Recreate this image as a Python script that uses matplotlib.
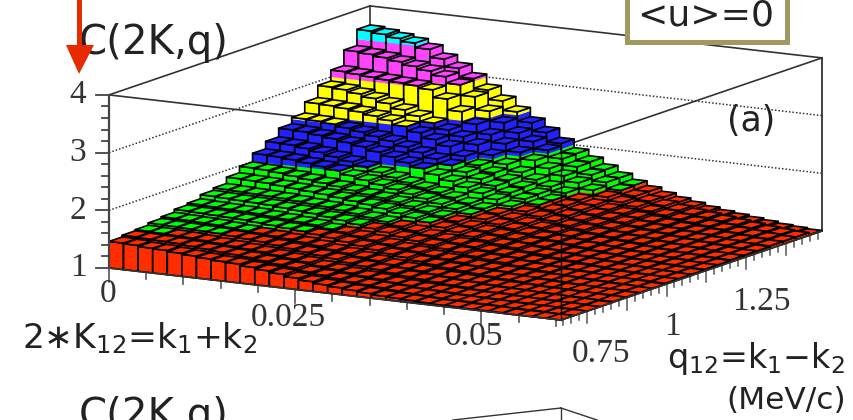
import numpy as np
import matplotlib
matplotlib.use('Agg')
import matplotlib.pyplot as plt
from matplotlib.collections import PolyCollection
from matplotlib.patches import Polygon, Rectangle

# C(2K,q), one row per q bin (front to back), one value per K bin
c_values = [
    [1.46,1.45,1.43,1.42,1.40,1.38,1.36,1.34,1.33,1.30,1.27,1.24,1.20,1.17,1.14,1.12,1.10,1.08,1.06,1.05,1.04,1.03,1.02,1.02,1.01,1.01,1.01,1.00,1.00,1.00,1.00],
    [1.49,1.48,1.47,1.46,1.44,1.42,1.40,1.38,1.36,1.33,1.30,1.27,1.23,1.20,1.17,1.14,1.12,1.10,1.08,1.06,1.05,1.04,1.03,1.03,1.02,1.02,1.01,1.01,1.01,1.00,1.00],
    [1.51,1.50,1.49,1.48,1.46,1.44,1.42,1.40,1.38,1.35,1.32,1.29,1.25,1.22,1.19,1.16,1.14,1.11,1.09,1.07,1.06,1.05,1.04,1.03,1.03,1.02,1.02,1.01,1.01,1.01,1.00],
    [1.55,1.54,1.53,1.52,1.51,1.49,1.47,1.45,1.42,1.39,1.36,1.33,1.30,1.26,1.23,1.20,1.17,1.14,1.12,1.10,1.08,1.07,1.05,1.04,1.04,1.03,1.02,1.02,1.01,1.01,1.00],
    [1.58,1.57,1.56,1.55,1.53,1.51,1.49,1.47,1.45,1.42,1.39,1.35,1.32,1.28,1.25,1.21,1.18,1.16,1.13,1.11,1.09,1.08,1.06,1.05,1.04,1.03,1.03,1.02,1.02,1.01,1.01],
    [1.63,1.62,1.61,1.60,1.59,1.57,1.55,1.53,1.51,1.48,1.45,1.41,1.37,1.33,1.29,1.26,1.22,1.19,1.16,1.14,1.12,1.10,1.08,1.07,1.05,1.04,1.03,1.03,1.02,1.02,1.01],
    [1.66,1.65,1.64,1.63,1.62,1.60,1.58,1.56,1.54,1.50,1.47,1.43,1.39,1.35,1.31,1.28,1.24,1.21,1.18,1.15,1.13,1.11,1.09,1.07,1.06,1.05,1.04,1.03,1.02,1.02,1.01],
    [1.73,1.72,1.71,1.70,1.69,1.67,1.65,1.63,1.60,1.57,1.53,1.49,1.45,1.40,1.36,1.32,1.28,1.25,1.21,1.18,1.16,1.13,1.11,1.09,1.07,1.06,1.05,1.04,1.03,1.02,1.01],
    [1.77,1.76,1.75,1.74,1.73,1.71,1.69,1.67,1.64,1.61,1.57,1.53,1.48,1.43,1.38,1.34,1.30,1.27,1.23,1.20,1.17,1.14,1.12,1.10,1.08,1.07,1.05,1.04,1.03,1.03,1.02],
    [1.88,1.87,1.86,1.84,1.82,1.80,1.78,1.75,1.72,1.69,1.65,1.60,1.55,1.50,1.44,1.39,1.34,1.30,1.26,1.23,1.19,1.17,1.14,1.12,1.10,1.08,1.06,1.05,1.04,1.03,1.02],
    [1.99,1.98,1.96,1.93,1.90,1.87,1.84,1.80,1.76,1.73,1.69,1.64,1.58,1.53,1.47,1.41,1.36,1.32,1.28,1.24,1.21,1.18,1.15,1.13,1.11,1.09,1.07,1.06,1.04,1.03,1.02],
    [2.14,2.13,2.11,2.08,2.05,2.01,1.95,1.90,1.85,1.80,1.75,1.70,1.64,1.58,1.52,1.46,1.40,1.35,1.30,1.26,1.23,1.20,1.17,1.14,1.12,1.10,1.08,1.07,1.05,1.04,1.03],
    [2.27,2.26,2.23,2.19,2.14,2.09,2.03,1.96,1.90,1.84,1.78,1.73,1.67,1.60,1.54,1.48,1.42,1.37,1.32,1.28,1.24,1.21,1.18,1.15,1.13,1.11,1.09,1.07,1.06,1.04,1.03],
    [2.42,2.41,2.38,2.35,2.31,2.27,2.21,2.15,2.08,2.01,1.93,1.85,1.77,1.70,1.62,1.53,1.47,1.41,1.36,1.31,1.27,1.23,1.20,1.17,1.15,1.12,1.10,1.08,1.07,1.05,1.04],
    [2.53,2.52,2.50,2.46,2.42,2.37,2.32,2.25,2.18,2.10,2.02,1.93,1.84,1.75,1.66,1.58,1.51,1.44,1.38,1.33,1.29,1.25,1.21,1.18,1.16,1.13,1.11,1.09,1.07,1.05,1.04],
    [2.72,2.71,2.69,2.66,2.62,2.57,2.50,2.42,2.33,2.24,2.10,1.97,1.87,1.77,1.68,1.59,1.51,1.45,1.40,1.35,1.31,1.27,1.23,1.20,1.17,1.14,1.12,1.10,1.08,1.06,1.04],
    [2.93,2.91,2.87,2.82,2.76,2.68,2.60,2.51,2.42,2.33,2.22,2.07,1.94,1.83,1.73,1.64,1.56,1.47,1.41,1.36,1.32,1.28,1.24,1.21,1.18,1.15,1.13,1.10,1.08,1.06,1.05],
    [3.12,3.10,3.08,3.06,3.04,3.02,2.98,2.85,2.66,2.47,2.32,2.19,2.07,1.96,1.85,1.75,1.66,1.56,1.47,1.41,1.36,1.31,1.27,1.23,1.20,1.17,1.14,1.11,1.09,1.07,1.05],
    [3.39,3.37,3.34,3.30,3.25,3.20,3.13,3.02,2.84,2.62,2.45,2.30,2.18,2.06,1.94,1.83,1.72,1.62,1.51,1.44,1.38,1.33,1.28,1.24,1.21,1.18,1.15,1.12,1.09,1.07,1.05],
    [3.67,3.64,3.60,3.55,3.47,3.33,3.20,3.05,2.88,2.72,2.56,2.40,2.26,2.10,1.95,1.84,1.73,1.62,1.52,1.44,1.37,1.31,1.26,1.21,1.17,1.14,1.11,1.08,1.05,1.03,1.01],
]
levels = [1.0, 1.5, 2.0, 2.5, 3.0, 3.5, 4.0]
level_colors = ['#ff2c00', '#00ff00', '#2222ff', '#ffff00', '#ff44ff', '#00ffff']

k_range = (0.0, 0.0607)
q_range = (0.668, 1.489)
k_major = [0, 0.025, 0.05]
q_major = [0.75, 1.0, 1.25]
z_major = [1, 2, 3, 4]

c_values = np.array(c_values)
nq, nk = c_values.shape
k_edges = np.linspace(k_range[0], k_range[1], nk + 1)
q_edges = np.linspace(q_range[0], q_range[1], nq + 1)


def proj(k, q, z):
    # oblique view of the ROOT lego box, result in image pixels
    u = (k - k_range[0]) / (k_range[1] - k_range[0])
    v = (q - q_range[0]) / (q_range[1] - q_range[0])
    return 109 + 452 * u + 261 * v, 268 + 52 * u - 89 * v - 57.7 * (z - 1)


def band_parts(z0, z1):
    # split a bar side into the colour bands it crosses
    parts = []
    for b in range(len(level_colors)):
        lo, hi = max(z0, levels[b]), min(z1, levels[b + 1])
        if hi > lo:
            parts.append((lo, hi, level_colors[b]))
    return parts


def band_color(z):
    b = np.searchsorted(levels, z, side='right') - 1
    return level_colors[min(b, len(level_colors) - 1)]


fig = plt.figure(figsize=(8.54, 4.2), dpi=100)
ax = fig.add_axes([0, 0, 1, 1])
ax.set_xlim(0, 854)
ax.set_ylim(420, 0)
ax.axis('off')

kmin, kmax = k_range
qmin, qmax = q_range
frame_col = '#333333'


def box_line(p0, p1, **kw):
    a, b = proj(*p0), proj(*p1)
    ax.plot([a[0], b[0]], [a[1], b[1]], **kw)


# back walls
for z in [2, 3]:
    box_line((kmin, qmin, z), (kmin, qmax, z), color='#333333', lw=1.1, ls=(0, (1, 1.3)), zorder=1)
    box_line((kmin, qmax, z), (kmax, qmax, z), color='#333333', lw=1.1, ls=(0, (1, 1.3)), zorder=1)
box_line((kmin, qmin, 4), (kmin, qmax, 4), color=frame_col, lw=1.2, zorder=1)
box_line((kmin, qmax, 4), (kmax, qmax, 4), color=frame_col, lw=1.2, zorder=1)
box_line((kmin, qmin, 4), (kmax, qmin, 4), color=frame_col, lw=1.2, zorder=1)
box_line((kmax, qmin, 4), (kmax, qmax, 4), color=frame_col, lw=1.2, zorder=1)
box_line((kmin, qmax, 1), (kmin, qmax, 4), color=frame_col, lw=1.2, zorder=1)
box_line((kmax, qmax, 1), (kmax, qmax, 4), color=frame_col, lw=1.3, zorder=1)

# lego bars, back to front so the nearer ones paint over the others
polys, faces, edges = [], [], []
for j in range(nq - 1, -1, -1):
    for i in range(nk):
        z = c_values[j, i]
        k0, k1 = k_edges[i], k_edges[i + 1]
        q0, q1 = q_edges[j], q_edges[j + 1]
        sides = [((k0, q0), (k1, q0)), ((k1, q0), (k1, q1))]
        for (a, b) in sides:
            for lo, hi, col in band_parts(1.0, z):
                polys.append([proj(a[0], a[1], lo), proj(b[0], b[1], lo),
                              proj(b[0], b[1], hi), proj(a[0], a[1], hi)])
                faces.append(col)
                edges.append('none')
            polys.append([proj(a[0], a[1], 1.0), proj(b[0], b[1], 1.0),
                          proj(b[0], b[1], z), proj(a[0], a[1], z)])
            faces.append('none')
            edges.append('black')
        polys.append([proj(k0, q0, z), proj(k1, q0, z), proj(k1, q1, z), proj(k0, q1, z)])
        faces.append(band_color(z))
        edges.append('black')

bars = PolyCollection(polys, facecolors=faces, edgecolors=edges, linewidths=1.2, zorder=2)
ax.add_collection(bars)

# lines in front of the bars
box_line((kmax, qmin, 1), (kmax, qmin, 4), color='black', lw=1.0, zorder=3)
box_line((kmin, qmin, 1), (kmax, qmin, 1), color=frame_col, lw=1.2, zorder=3)
box_line((kmax, qmin, 1), (kmax, qmax, 1), color=frame_col, lw=1.2, zorder=3)
box_line((kmin, qmin, 1), (kmin, qmin, 4), color='#444444', lw=1.6, zorder=3)

# z axis ticks
for z in np.arange(1, 4.01, 0.2):
    x, y = proj(kmin, qmin, z)
    major = abs(z - round(z)) < 1e-6
    ax.plot([x - (13 if major else 7), x], [y, y], color='#444444', lw=1.3, zorder=3)
for z in z_major:
    x, y = proj(kmin, qmin, z)
    ax.text(78, y, str(z), family='Liberation Serif', fontsize=24, color='#333333',
            ha='center', va='center', zorder=4)

# K axis ticks
for k in np.arange(0, 0.0601, 0.005):
    x, y = proj(k, qmin, 1)
    major = min(abs(k - m) for m in k_major) < 1e-6
    ax.plot([x, x], [y, y + (14 if major else 7)], color='#555555', lw=1.2, zorder=1)

# q axis ticks
for q in np.arange(0.675, qmax, 0.025):
    x, y = proj(kmax, q, 1)
    major = min(abs(q - m) for m in q_major) < 1e-6
    mid = min(abs(q - m - 0.125) for m in q_major) < 1e-6
    ax.plot([x, x], [y, y + (12 if major or mid else 6)], color='#555555', lw=1.1, zorder=1)

tick_font = dict(family='Liberation Serif', fontsize=24, color='#333333', ha='center', va='center')
ax.text(108, 294, '0', **tick_font)
ax.text(288, 318, '0.025', **tick_font)
ax.text(474, 337, '0.05', **tick_font)
ax.text(601, 354, '0.75', **tick_font)
ax.text(672, 327, '1', **tick_font)
ax.text(761, 302, '1.25', **tick_font)

# labels
label_font = dict(family='DejaVu Sans', color='#222222', ha='left', va='baseline')
ax.text(79, 54, 'C(2K,q)', fontsize=29, **label_font)
ax.text(79, 427, 'C(2K,q)', fontsize=29, **label_font)
ax.text(22, 348, r'2$\ast$K$_{12}$=k$_{1}$+k$_{2}$', fontsize=24.8, **label_font)
ax.text(667, 368, r'q$_{12}$=k$_{1}$$-$k$_{2}$', fontsize=24, **label_font)
ax.text(726, 409, '(MeV/c)', fontsize=22.5, **label_font)
ax.text(751, 121, '(a)', fontsize=25, family='DejaVu Sans', color='#222222', ha='center', va='center')

# <u>=0 box, cut by the top of the page
ax.add_patch(Rectangle((627.5, -10), 160, 51.5, facecolor='white', edgecolor='#a09a60', lw=3.6, zorder=5))
ax.text(706, 16, '<u>=0', fontsize=26, family='DejaVu Sans', color='#222222',
        ha='center', va='center', zorder=6)

# red arrow
ax.plot([79, 79], [-2, 48], color='#e62b00', lw=3.6, solid_capstyle='butt', zorder=7)
ax.add_patch(Polygon([(66, 45), (94, 45), (79, 74)], closed=True, facecolor='#e62b00', edgecolor='none', zorder=7))

# top of the next panel, cut by the bottom of the page
for end in [(453, 420), (597, 420), (561, 425)]:
    ax.plot([561, end[0]], [408, end[1]], color=frame_col, lw=1.0, zorder=1)

fig.savefig('out.png', dpi=100)
